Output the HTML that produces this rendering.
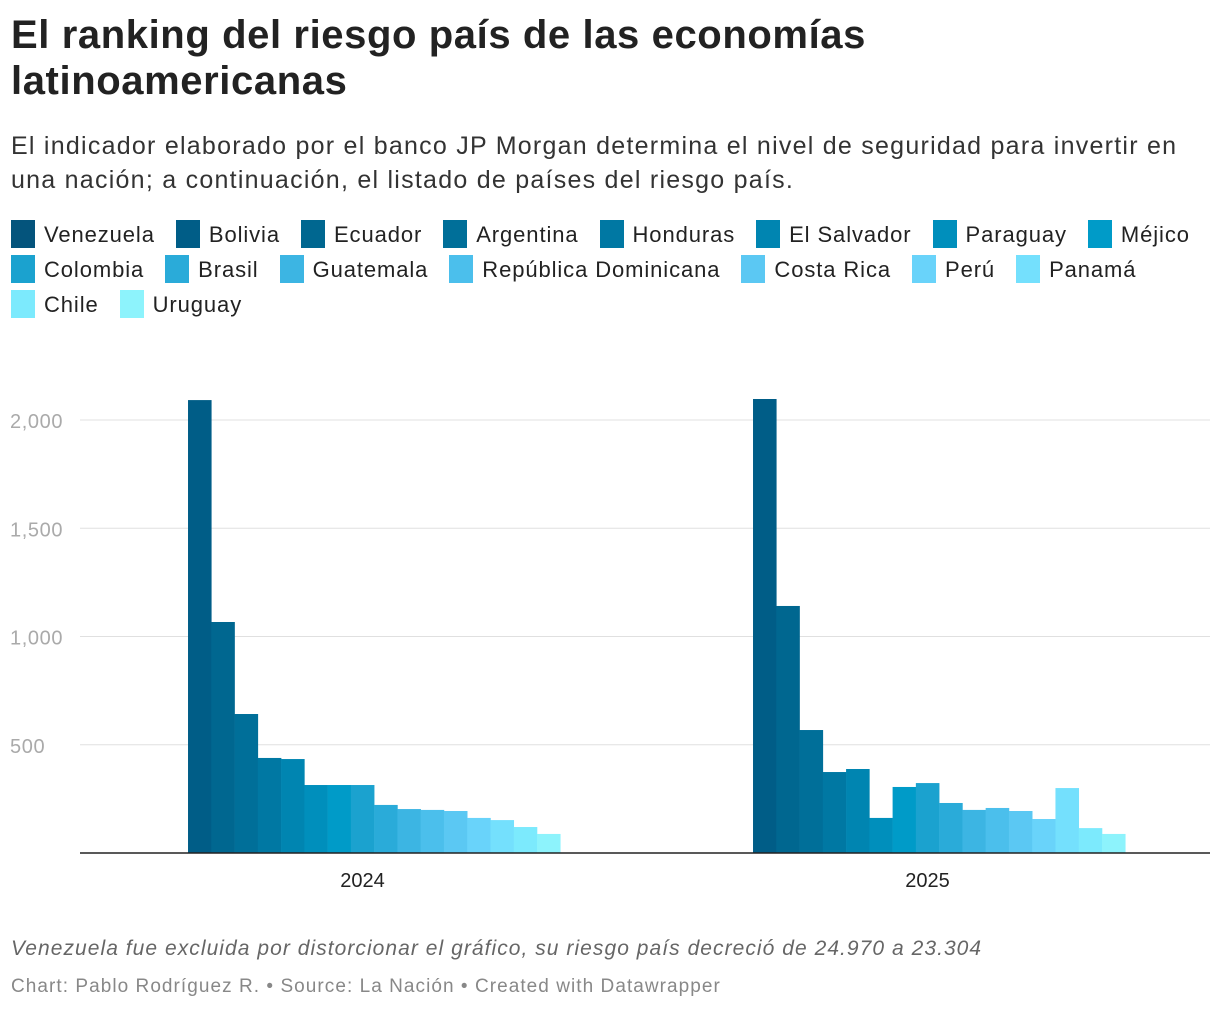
<!DOCTYPE html>
<html><head><meta charset="utf-8"><style>
body{margin:0;background:#fff;font-family:"Liberation Sans",sans-serif;color:#222;width:1220px;height:1012px;overflow:hidden;position:relative}
h1{position:absolute;left:11px;top:12px;margin:0;font-size:40px;line-height:46px;font-weight:bold;width:1210px;letter-spacing:0.6px}
.sub{position:absolute;left:11px;top:129px;font-size:25px;line-height:34px;color:#333;width:1215px;letter-spacing:1.25px}
.legend{position:absolute;left:11px;top:217px;width:1210px;font-size:22px;line-height:35px;letter-spacing:0.9px}
.li{display:inline-block;margin-right:21px;white-space:nowrap}
.sw{display:inline-block;width:24px;height:28px;vertical-align:-6px;margin-right:9px}
.note{position:absolute;left:11px;top:937px;font-size:21px;font-style:italic;color:#666;letter-spacing:1.05px}
.foot{position:absolute;left:11px;top:976px;font-size:19px;color:#888;letter-spacing:1.05px}
svg{position:absolute;left:0;top:0}
</style></head><body>
<h1>El ranking del riesgo país de las economías<br>latinoamericanas</h1>
<div class="sub">El indicador elaborado por el banco JP Morgan determina el nivel de seguridad para invertir en<br>una nación; a continuación, el listado de países del riesgo país.</div>
<div class="legend" id="legend"></div>
<svg id="chart" width="1220" height="1012"></svg>
<div class="note">Venezuela fue excluida por distorcionar el gráfico, su riesgo país decreció de 24.970 a 23.304</div>
<div class="foot">Chart: Pablo Rodríguez R. • Source: La Nación • Created with Datawrapper</div>
<script>
const countries=["Venezuela","Bolivia","Ecuador","Argentina","Honduras","El Salvador","Paraguay","Méjico","Colombia","Brasil","Guatemala","República Dominicana","Costa Rica","Perú","Panamá","Chile","Uruguay"];
const colors=["#04547c","#005d87","#006790","#006f99","#0078a3","#0085b1","#008fbc","#009bc8","#1ba2cf","#2aabd9","#3cb5e3","#4bbfec","#5bc8f3","#69d3fa","#74e0fd","#7ceafd","#8df3fc"];
const years=["2024","2025"];
const values2024=[null,2092,1067,642,439,434,314,314,314,222,203,199,194,162,152,120,88];
const values2025=[null,2097,1141,568,374,388,162,305,323,231,199,208,194,157,300,115,88];
const yTicks=[500,1000,1500,2000];
const yTickLabels=["500","1,000","1,500","2,000"];

const NS="http://www.w3.org/2000/svg";
const svg=document.getElementById('chart');
const X0=80,X1=1210,Y0=853,YTOP=420,VMAX=2000;
const y=v=>Y0-(v/VMAX)*(Y0-YTOP);
const band=(X1-X0)/years.length, gw=band*0.7, sw=gw/countries.length;
const gx=i=>X0+band*i+(band-gw)/2;
function mk(t,a){const e=document.createElementNS(NS,t);for(const k in a)e.setAttribute(k,a[k]);svg.appendChild(e);return e;}
yTicks.forEach((t,i)=>{
  const g=mk('line',{x1:X0,x2:X1,y1:y(t),y2:y(t),stroke:'#e0e0e0','stroke-width':1});
  
  
  const l=mk('text',{x:10,y:y(t)+8,'font-size':20,fill:'#aaa','font-family':'Liberation Sans','letter-spacing':'0.6'});
  l.textContent=yTickLabels[i];
  
  
});
[values2024,values2025].forEach((vals,gi)=>{
  vals.forEach((v,ci)=>{
    if(v==null)return;
    const r=mk('rect',{x:gx(gi)+ci*sw,y:y(v),width:sw+0.3,height:Y0-y(v),fill:colors[ci]});
    
    
  });
  const t=mk('text',{x:gx(gi)+gw/2,y:Y0+34,'font-size':20,fill:'#222','text-anchor':'middle','font-family':'Liberation Sans'});
  t.textContent=years[gi];
  
  
});
const ax=mk('line',{x1:X0,x2:X1,y1:Y0,y2:Y0,stroke:'#222','stroke-width':1.5});


const lg=document.getElementById('legend');
countries.forEach((c,i)=>{
  if(c==="Chile"){lg.appendChild(document.createElement('br'));}
  const d=document.createElement('span');d.className='li';
  
  
  d.innerHTML='<span class="sw" style="background:'+colors[i]+'"></span>'+c;
  lg.appendChild(d);
});
</script>
</body></html>
